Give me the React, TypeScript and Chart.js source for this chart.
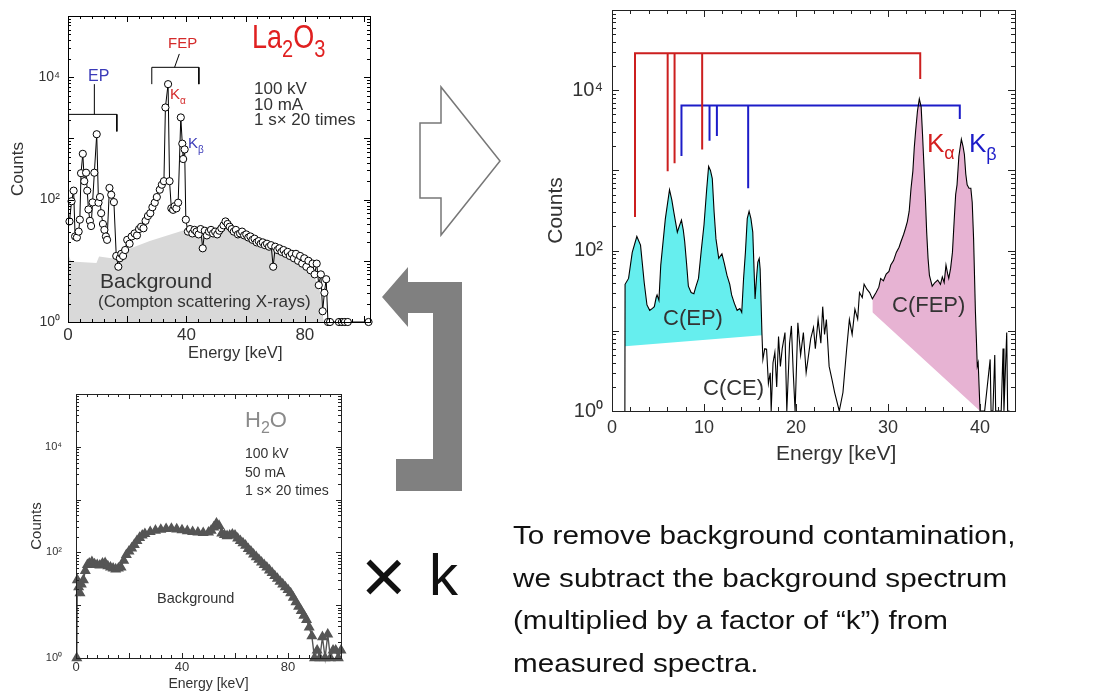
import React, { useEffect, useRef } from 'react';
import { Chart, registerables } from 'chart.js';
Chart.register(...registerables);

// ---------------- DATA ----------------
// Top-left: La2O3 measured spectrum [keV, counts]
const laSpectrum: [number, number][] = [
  [0.5, 44], [1.2, 94], [1.9, 140], [2.4, 25], [3.0, 24], [3.6, 30], [4.0, 47], [4.4, 270], [5.0, 560], [5.5, 200],
  [6.1, 275], [6.5, 140], [6.9, 69], [7.4, 45], [7.8, 37], [8.3, 90], [8.9, 275], [9.7, 1170], [10.3, 89], [10.8, 110],
  [11.2, 60], [11.8, 40], [12.3, 32], [12.8, 25], [13.2, 22], [14.0, 155], [14.6, 120], [15.5, 91], [16.3, 12], [17.0, 8],
  [17.5, 11], [18.0, 13], [18.6, 12], [19.3, 15], [20.0, 22], [20.8, 19], [21.5, 25], [22.5, 28], [23.3, 26], [24.0, 33],
  [24.7, 36], [25.5, 34], [26.2, 45], [27.0, 54], [27.8, 60], [28.5, 75], [29.3, 89], [30.0, 110], [31.0, 145], [31.7, 175],
  [32.4, 200], [32.9, 3200], [33.8, 7700], [34.3, 200], [34.9, 72], [35.5, 68], [36.0, 78], [36.6, 72], [37.2, 89], [38.1, 2200],
  [38.6, 820], [38.9, 460], [39.4, 660], [39.8, 47], [40.5, 30], [41.2, 33], [42.0, 28], [42.7, 32], [43.4, 30], [44.1, 27],
  [44.8, 33], [45.5, 16], [46.2, 31], [46.9, 26], [47.6, 30], [48.3, 32], [49.0, 28], [49.7, 30], [50.4, 27], [51.1, 31],
  [51.8, 34], [52.5, 38], [53.2, 44], [53.9, 40], [54.6, 36], [55.3, 33], [56.0, 30], [56.7, 32], [57.4, 27], [58.1, 28],
  [58.8, 30], [59.5, 26], [60.2, 27], [60.9, 24], [61.6, 25], [62.3, 22], [63.0, 23], [63.7, 20], [64.4, 21], [65.1, 19],
  [65.8, 20], [66.5, 18], [67.2, 19], [67.9, 17], [68.6, 18], [69.3, 8], [70.0, 17], [70.7, 15], [71.4, 16], [72.1, 14],
  [72.8, 15], [73.5, 13], [74.2, 14], [74.9, 12], [75.6, 13], [76.3, 11], [77.0, 13], [77.7, 10], [78.4, 12], [79.1, 9],
  [79.8, 11], [80.5, 8], [81.2, 10], [81.9, 7], [82.6, 9], [83.3, 6], [84.0, 9], [84.7, 4], [85.4, 6], [86.0, 1.5],
  [86.6, 3], [87.2, 5], [87.8, 1], [88.5, 1], [91.5, 1], [92.5, 1], [93.5, 1], [94.5, 1], [101.5, 1],
];
// Top-left: grey background (Compton scattering) area
const laBackground: [number, number][] = [
  [0, 13], [1.1, 9.7], [9.6, 9.2], [10.5, 11.8], [14.7, 11], [16.4, 13], [27.6, 21], [39.4, 32], [46.7, 30],
  [53.5, 37], [58, 28], [67, 17], [76, 10.4], [82.8, 6.3], [85, 3.3], [86.4, 1],
];
// Top-left bracket marks (null = break)
const epBracket: ([number, number] | null)[] = [[0.2, 1300], [0.2, 2470], [16.5, 2470], [16.5, 1300], null, [8.9, 2470], [8.9, 7700]];
const fepBracket: ([number, number] | null)[] = [[28.3, 7700], [28.3, 14500], [44.2, 14500], [44.2, 7700], null, [36, 14500], [37.6, 24000]];

// Bottom-left: H2O background spectrum
const h2oSpectrum: [number, number][] = [
  [0.3, 1], [0.5, 30], [1, 22], [1.5, 17], [2, 25], [2.8, 30], [3.5, 45], [4.3, 58], [5, 62], [6, 66], [7, 60], [8, 58],
  [9, 57], [10, 62], [11, 63], [12, 55], [13, 52], [14, 50], [15, 48], [16, 50], [17, 52], [18, 70], [19, 90], [20, 105],
  [21, 120], [22, 140], [23, 165], [24, 190], [25, 210], [26, 225], [28, 245], [30, 260], [32, 270], [34, 280], [36, 282],
  [38, 275], [40, 265], [42, 255], [44, 245], [46, 240], [48, 235], [50, 240], [51, 260], [52, 300], [53, 355], [54, 320],
  [55, 230], [56, 215], [57, 205], [58, 210], [59, 220], [60, 210], [61, 185], [62, 165], [63, 150], [64, 135], [65, 117],
  [66, 105], [67, 92], [68, 82], [69, 73], [70, 65], [71, 58], [72, 52], [73, 46], [74, 41], [75, 36], [76, 32], [77, 28],
  [78, 25], [79, 22], [80, 19.5], [81, 17], [82, 14], [83, 11.5], [84, 9.4], [85, 7.8], [86, 6.4], [87, 5.3], [88, 3.8],
  [89, 2.6], [90, 1], [91, 1.4], [92, 1], [93, 2.5], [94, 1], [95, 2.8], [96, 1], [97, 1.4], [98, 1.4], [99, 1], [100, 1.4],
];

// Right: background-subtracted spectrum
const netSpectrum: [number, number][] = [
  [1.4, 1], [1.42, 38], [1.8, 45], [2.2, 95], [2.7, 150], [3.1, 117], [3.5, 40], [3.8, 21], [4.1, 18], [4.4, 19], [4.6, 20],
  [4.8, 26], [4.9, 28], [5.1, 24], [5.3, 66], [5.8, 250], [6.25, 575], [6.5, 430], [6.7, 310], [6.9, 230], [7.1, 170],
  [7.3, 200], [7.55, 240], [7.75, 180], [7.9, 130], [8.1, 70], [8.3, 36], [8.6, 30], [8.9, 29], [9.1, 35], [9.4, 45],
  [9.7, 100], [10.0, 210], [10.3, 600], [10.5, 1120], [10.7, 1000], [10.9, 790], [11.1, 300], [11.3, 140], [11.6, 80],
  [11.95, 91], [12.2, 70], [12.5, 49], [12.8, 38], [13.0, 28], [13.3, 22], [13.6, 18], [13.9, 19], [14.1, 17], [14.3, 45],
  [14.5, 95], [14.7, 250], [14.9, 310], [15.1, 250], [15.3, 170], [15.55, 25], [15.7, 45], [15.85, 72], [16.0, 80],
  [16.1, 59], [16.3, 9], [16.4, 4.4], [16.6, 6], [16.8, 5.9], [17.0, 2.2], [17.2, 3], [17.3, 1], [17.5, 4], [17.7, 5.4],
  [17.9, 2], [18.1, 8.5], [18.3, 3.6], [18.5, 6], [18.8, 9.5], [19.0, 1], [19.3, 7], [19.5, 11.5], [19.7, 3], [19.9, 1],
  [20.2, 12.6], [20.5, 5], [20.8, 9.5], [21.1, 3], [21.3, 4.4], [21.6, 8], [21.9, 11], [22.1, 6], [22.4, 13.8], [22.7, 7],
  [22.9, 20], [23.1, 9], [23.3, 13.8], [23.6, 3.6], [23.9, 2.5], [24.2, 1.7], [24.7, 1], [25.1, 1.7], [25.5, 5.9],
  [25.8, 13.8], [26.1, 9], [26.4, 18.6], [26.7, 14], [26.9, 30], [27.2, 26], [27.4, 38], [27.7, 33], [28.0, 30],
  [28.3, 25], [28.7, 30], [29.0, 35], [29.2, 45], [29.5, 42], [29.8, 51], [30.1, 55], [30.3, 66], [30.6, 75], [30.9, 95],
  [31.2, 110], [31.4, 129], [31.7, 160], [31.9, 190], [32.1, 230], [32.3, 310], [32.5, 600], [32.7, 980], [32.85, 1900],
  [33.0, 3100], [33.2, 5500], [33.4, 7800], [33.6, 6200], [33.75, 2800], [33.9, 1170], [34.05, 480], [34.2, 170],
  [34.35, 80], [34.5, 49], [34.8, 36], [35.1, 40], [35.4, 43], [35.7, 38], [35.9, 47], [36.1, 40], [36.3, 66], [36.5, 50],
  [36.6, 45], [36.8, 60], [37.0, 95], [37.2, 250], [37.35, 500], [37.5, 660], [37.7, 1500], [37.97, 2450], [38.15, 2000],
  [38.3, 1580], [38.45, 900], [38.6, 660], [38.8, 600], [39.0, 600], [39.15, 400], [39.3, 140], [39.5, 17], [39.6, 8],
  [39.7, 3.6], [39.8, 4], [40.0, 1], [40.5, 1], [41.1, 4.4], [41.2, 1], [41.4, 1], [41.6, 5], [41.7, 1], [42.3, 1],
  [42.5, 6], [42.6, 1], [42.9, 9.5], [43.0, 1], [43.2, 1],
];
const epRange = [1.42, 16.3];
const epBase: [number, number][] = [[1.42, 6.4], [16.3, 8.8]];
const fepRange = [28.3, 40];
const fepBase: [number, number][] = [[28.3, 17], [40, 1]];
// Kα (red) and Kβ (blue) marker lines: top level, then [energy, lower end]
const kaTop = 28800;
const kaLines: [number, number][] = [[2.5, 263], [6.05, 977], [6.8, 1230], [9.8, 1820], [33.5, 13800]];
const kbTop = 6460;
const kbLines: [number, number][] = [[7.55, 1510], [10.6, 2340], [11.4, 2690], [14.8, 600], [37.8, 4370]];

// Axis ticks
const logTicks = [1, 100, 10000];
const logTickLabels = ['10\u2070', '10\u00B2', '10\u2074'];
const wideXTicks = [0, 40, 80];
const netXTicks = [0, 10, 20, 30, 40];

// ---------------- HELPERS ----------------
const FONT = '"Liberation Sans", Arial, Helvetica, sans-serif';
const TXT = '#333';

const pts = (a: ([number, number] | null)[]) => a.map((p, i) => (p ? { x: p[0], y: p[1] } : { x: (a[i - 1] as any)[0], y: null }));
const bracketPts = (top: number, lines: [number, number][]) => {
  const out: any[] = [
    { x: lines[0][0], y: lines[0][1] }, { x: lines[0][0], y: top },
    { x: lines[lines.length - 1][0], y: top }, { x: lines[lines.length - 1][0], y: lines[lines.length - 1][1] },
    { x: lines[lines.length - 1][0], y: null },
  ];
  lines.slice(1, -1).forEach(([e, lo]) => { out.push({ x: e, y: top }, { x: e, y: lo }, { x: e, y: null }); });
  return out;
};

const framePlugin = {
  id: 'frame',
  afterDatasetsDraw(chart: any, _a: any, o: any) {
    const { ctx, chartArea: a, scales } = chart;
    const x = scales.x, y = scales.y;
    ctx.save();
    ctx.strokeStyle = o.color;
    ctx.lineWidth = o.width;
    ctx.beginPath();
    for (let v = x.min; v <= x.max + 1e-6; v += o.xMinor) {
      const px = Math.round(x.getPixelForValue(v)) + 0.5;
      const major = Math.abs(v / o.xMajor - Math.round(v / o.xMajor)) < 1e-6;
      const len = major ? o.major : o.minor;
      ctx.moveTo(px, a.bottom); ctx.lineTo(px, a.bottom - len);
      ctx.moveTo(px, a.top); ctx.lineTo(px, a.top + len);
    }
    for (let d = 0; d < 5; d++) for (let m = 1; m < 10; m++) {
      const v = m * Math.pow(10, d);
      const py = Math.round(y.getPixelForValue(v)) + 0.5;
      const len = m === 1 ? o.major : o.minor;
      ctx.moveTo(a.left, py); ctx.lineTo(a.left + len, py);
      ctx.moveTo(a.right, py); ctx.lineTo(a.right - len, py);
    }
    ctx.stroke();
    ctx.strokeRect(Math.round(a.left) + 0.5, Math.round(a.top) + 0.5, Math.round(a.right - a.left), Math.round(a.bottom - a.top));
    ctx.restore();
  },
};

function yAxis(width: number, tickSize: number, tickPad: number, title: string | null, titleSize: number, titlePad: number) {
  return {
    type: 'logarithmic', min: 1, max: 100000,
    afterBuildTicks: (s: any) => { s.ticks = logTicks.map((v) => ({ value: v })); },
    afterFit: (s: any) => { s.width = width; s.paddingTop = 0; s.paddingBottom = 0; },
    grid: { display: false, drawTicks: false },
    border: { display: false },
    ticks: {
      autoSkip: false, padding: tickPad, color: TXT, font: { family: FONT, size: tickSize },
      callback: (v: any) => { const i = logTicks.indexOf(Number(v)); return i >= 0 ? logTickLabels[i] : ''; },
    },
    title: { display: !!title, text: title || '', color: TXT, font: { family: FONT, size: titleSize }, padding: { top: titlePad, bottom: 0 } },
  };
}
function xAxis(max: number, ticks: number[], height: number, tickSize: number, tickPad: number, title: string | null, titleSize: number, titlePad: number) {
  return {
    type: 'linear', min: 0, max,
    afterBuildTicks: (s: any) => { s.ticks = ticks.map((v) => ({ value: v })); },
    afterFit: (s: any) => { s.height = height; s.paddingLeft = 0; s.paddingRight = 0; },
    grid: { display: false, drawTicks: false },
    border: { display: false },
    ticks: { autoSkip: false, maxRotation: 0, padding: tickPad, color: TXT, font: { family: FONT, size: tickSize }, callback: (v: any) => String(v) },
    title: { display: !!title, text: title || '', color: TXT, font: { family: FONT, size: titleSize }, padding: { top: 0, bottom: titlePad } },
  };
}
const baseOpts = (padding: any, frame: any, x: any, y: any) => ({
  animation: false, responsive: false, events: [],
  layout: { padding },
  plugins: { legend: { display: false }, tooltip: { enabled: false }, frame },
  scales: { x, y },
  elements: { line: { tension: 0 } },
});

// ---------------- CHART CONFIGS ----------------
const laConfig = () => ({
  type: 'line',
  data: {
    datasets: [
      { data: pts(laSpectrum), borderColor: '#000', borderWidth: 1, pointRadius: 3.6, pointBackgroundColor: '#fff', pointBorderColor: '#000', pointBorderWidth: 1, fill: false, clip: 8 },
      { data: pts(epBracket), borderColor: '#000', borderWidth: 1, pointRadius: 0, spanGaps: false, fill: false },
      { data: pts(fepBracket), borderColor: '#000', borderWidth: 1, pointRadius: 0, spanGaps: false, fill: false },
      { data: pts(laBackground), borderWidth: 0, borderColor: 'rgba(0,0,0,0)', pointRadius: 0, backgroundColor: '#d9d9d9', fill: 'start' },
    ],
  },
  options: baseOpts({ left: 0, top: 16, right: 10, bottom: 0 },
    { color: '#000', width: 1, xMajor: 20, xMinor: 4, major: 6, minor: 3 },
    xAxis(102, wideXTicks, 43, 17, 3, null, 16, 0),
    yAxis(68, 14, 8, 'Counts', 17, 8)),
  plugins: [framePlugin],
});

const h2oConfig = () => ({
  type: 'line',
  data: {
    datasets: [
      { data: pts(h2oSpectrum), borderColor: '#555', borderWidth: 1.4, pointStyle: 'triangle', pointRadius: 5, pointBackgroundColor: '#555', pointBorderColor: '#555', fill: false, clip: 8 },
    ],
  },
  options: baseOpts({ left: 0, top: 14, right: 9, bottom: 0 },
    { color: '#222', width: 1, xMajor: 20, xMinor: 4, major: 5, minor: 3 },
    xAxis(100, wideXTicks, 36, 13, 2, 'Energy [keV]', 14, 1),
    yAxis(76, 11, 14, 'Counts', 15, 28)),
  plugins: [framePlugin],
});

const netConfig = () => ({
  type: 'line',
  data: {
    datasets: [
      { data: pts(netSpectrum), borderColor: '#000', borderWidth: 1.1, pointRadius: 0, fill: false },
      { data: bracketPts(kaTop, kaLines), borderColor: '#cc1f1f', borderWidth: 2, pointRadius: 0, spanGaps: false, fill: false },
      { data: bracketPts(kbTop, kbLines), borderColor: '#1c1cc8', borderWidth: 2, pointRadius: 0, spanGaps: false, fill: false },
      { data: pts(netSpectrum.filter(([e]) => e >= epRange[0] && e <= epRange[1])), borderWidth: 0, borderColor: 'rgba(0,0,0,0)', pointRadius: 0, backgroundColor: '#66eeee', fill: '+1' },
      { data: pts(epBase), borderWidth: 0, borderColor: 'rgba(0,0,0,0)', pointRadius: 0, fill: false },
      { data: pts(netSpectrum.filter(([e]) => e >= fepRange[0] && e <= fepRange[1])), borderWidth: 0, borderColor: 'rgba(0,0,0,0)', pointRadius: 0, backgroundColor: '#e7b3d3', fill: '+1' },
      { data: pts(fepBase), borderWidth: 0, borderColor: 'rgba(0,0,0,0)', pointRadius: 0, fill: false },
    ],
  },
  options: baseOpts({ left: 0, top: 10, right: 5, bottom: 0 },
    { color: '#222', width: 1, xMajor: 10, xMinor: 2, major: 7, minor: 4 },
    xAxis(43.8, netXTicks, 59, 18, 6, null, 21, 0),
    yAxis(72, 20, 9, 'Counts', 21, 4)),
  plugins: [framePlugin],
});

// ---------------- COMPONENTS ----------------
function ChartBox({ left, top, width, height, make }: any) {
  const ref = useRef<HTMLCanvasElement>(null);
  useEffect(() => {
    const chart = new Chart(ref.current as HTMLCanvasElement, make() as any);
    return () => chart.destroy();
  }, []);
  return <canvas ref={ref} width={width} height={height} style={{ position: 'absolute', left, top, width, height }} />;
}

function T({ x, y, s, c = TXT, children, style }: any) {
  return (
    <div style={{ position: 'absolute', left: x, top: y, fontSize: s, color: c, fontFamily: FONT, lineHeight: 1, whiteSpace: 'nowrap', ...style }}>
      {children}
    </div>
  );
}
const sub = (t: string, s: number, drop = 0.3) => <span style={{ fontSize: s, position: 'relative', top: `${drop}em` }}>{t}</span>;

export default function App() {
  return (
    <div style={{ position: 'fixed', left: 0, top: 0, width: 1113, height: 694, background: '#fff', overflow: 'hidden' }}>
      <ChartBox left={0} top={0} width={380} height={365} make={laConfig} />
      <ChartBox left={0} top={380} width={350} height={314} make={h2oConfig} />
      <ChartBox left={540} top={0} width={480} height={470} make={netConfig} />

      {/* top-left annotations */}
      <T x={88} y={68} s={16} c="#3a3ab8">EP</T>
      <T x={168} y={35} s={15} c="#d42a2a">FEP</T>
      <T x={252} y={22} s={27} c="#e02020" style={{ transform: 'scaleY(1.2)', transformOrigin: 'left top' }}>La{sub('2', 20, 0.35)}O{sub('3', 20, 0.35)}</T>
      <T x={170} y={86} s={15} c="#d42a2a">K{sub('\u03B1', 10, 0.45)}</T>
      <T x={188} y={135} s={15} c="#3a3ab8">K{sub('\u03B2', 10, 0.45)}</T>
      <T x={254} y={80} s={17}>100 kV</T>
      <T x={254} y={95.5} s={17}>10 mA</T>
      <T x={254} y={111} s={17}>1 s{'\u00D7'} 20 times</T>
      <T x={100} y={270} s={21}>Background</T>
      <T x={98} y={293} s={17}>(Compton scattering X-rays)</T>
      <T x={188} y={344} s={16.5}>Energy [keV]</T>

      {/* bottom-left annotations */}
      <T x={245} y={409} s={22} c="#8a8a8a">H{sub('2', 16, 0.35)}O</T>
      <T x={245} y={446} s={14}>100 kV</T>
      <T x={245} y={465} s={14}>50 mA</T>
      <T x={245} y={483} s={14}>1 s{'\u00D7'} 20 times</T>
      <T x={157} y={591} s={14.5}>Background</T>

      {/* right annotations */}
      <T x={927} y={130} s={26} c="#d42020">K{sub('\u03B1', 18, 0.4)}</T>
      <T x={969} y={130} s={26} c="#1c1cc8">K{sub('\u03B2', 18, 0.45)}</T>
      <T x={663} y={307} s={22}>C(EP)</T>
      <T x={892} y={294} s={22}>C(FEP)</T>
      <T x={703} y={377} s={22}>C(CE)</T>
      <T x={776} y={442} s={21}>Energy [keV]</T>

      {/* arrows */}
      <svg width={1113} height={694} style={{ position: 'absolute', left: 0, top: 0, pointerEvents: 'none' }}>
        <polygon points="420,123 441,123 441,87 500,161 441,235 441,198 420,198" fill="#fff" stroke="#777" strokeWidth={1.5} />
        <polygon points="382,297 408,267 408,282 462,282 462,491 396,491 396,459 433,459 433,313 408,313 408,327" fill="#808080" />
      </svg>

      <T x={361} y={537} s={78} c="#111" style={{ fontWeight: 300 }}>{'\u00D7'}</T>
      <T x={429} y={546} s={58} c="#111">k</T>

      <div style={{ position: 'absolute', left: 513, top: 514, fontSize: 26, lineHeight: '42.5px', fontFamily: FONT, color: '#111', whiteSpace: 'nowrap', transform: 'scaleX(1.14)', transformOrigin: 'left top' }}>
        To remove background contamination,<br />
        we subtract the background spectrum<br />
        (multiplied by a factor of {'\u201C'}k{'\u201D'}) from<br />
        measured spectra.
      </div>
    </div>
  );
}
